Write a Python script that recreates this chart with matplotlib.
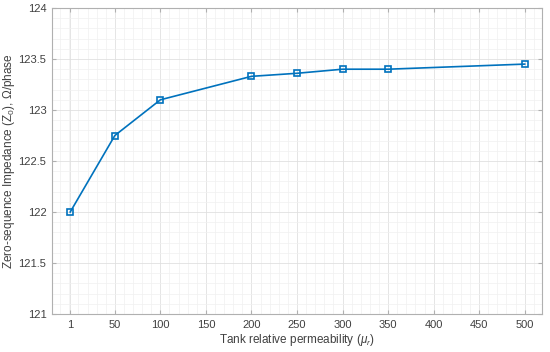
import matplotlib
matplotlib.use("Agg")
import matplotlib.pyplot as plt
from matplotlib.ticker import MultipleLocator

plt.rcParams["font.family"] = ["Liberation Sans", "DejaVu Sans"]
plt.rcParams["mathtext.fontset"] = "custom"
plt.rcParams["mathtext.rm"] = "Liberation Sans"
plt.rcParams["mathtext.it"] = "Liberation Sans:italic"

permeability = [1, 50, 100, 200, 250, 300, 350, 500]
impedance = [122.0, 122.75, 123.1, 123.33, 123.36, 123.4, 123.4, 123.45]
x_ticks = [1, 50, 100, 150, 200, 250, 300, 350, 400, 450, 500]
y_ticks = [121, 121.5, 122, 122.5, 123, 123.5, 124]

text_col = "#404040"
axis_col = "#b0b0b0"

fig = plt.figure(figsize=(5.5, 3.52), dpi=100)
ax = fig.add_axes([52 / 550, 1 - 314 / 352, 490 / 550, 306 / 352])

ax.plot(permeability, impedance, color="#0072BD", linewidth=1.2,
        marker="s", markersize=4.5, markerfacecolor="none",
        markeredgecolor="#0072BD", markeredgewidth=1.2, zorder=3)

ax.set_xlim(-19, 519)
ax.set_ylim(121, 124)
ax.set_xticks(x_ticks)
ax.set_xticklabels([str(t) for t in x_ticks])
ax.set_yticks(y_ticks)
ax.set_yticklabels(["121", "121.5", "122", "122.5", "123", "123.5", "124"])
ax.xaxis.set_minor_locator(MultipleLocator(10))
ax.yaxis.set_minor_locator(MultipleLocator(0.1))

ax.grid(which="major", color="#e0e0e0", linewidth=0.6)
ax.grid(which="minor", color="#f0f0f0", linewidth=0.5)
ax.set_axisbelow(True)

for side in ax.spines.values():
    side.set_color(axis_col)
    side.set_linewidth(0.8)

ax.tick_params(which="major", direction="in", length=3, color=axis_col,
               labelcolor=text_col, labelsize=8, top=True, right=True)
ax.tick_params(which="minor", length=0)
ax.tick_params(axis="x", pad=4)
ax.tick_params(axis="y", pad=4)

ax.set_xlabel(r"Tank relative permeability ($\mu_r$)", color=text_col, fontsize=8.5)
ax.xaxis.set_label_coords(0.5, -0.06)
ax.set_ylabel(r"Zero-sequence Impedance (Z$_0$), Ω/phase", color=text_col, fontsize=8.5)
ax.yaxis.set_label_coords(-0.072, 0.5)

fig.savefig("out.png", dpi=100)
